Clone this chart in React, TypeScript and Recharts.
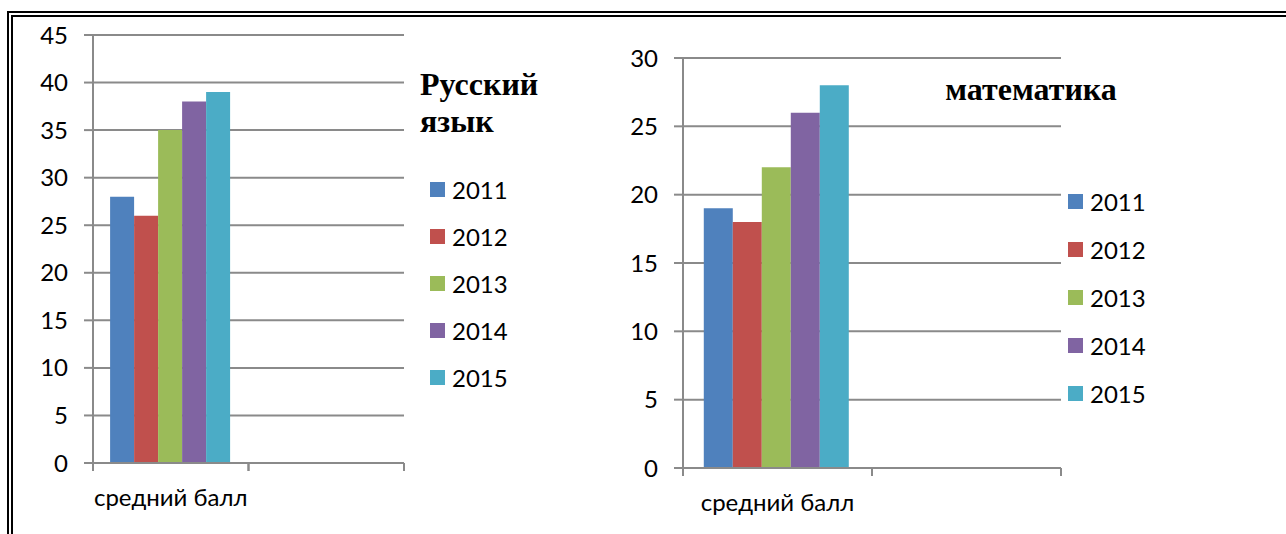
import { Bar, BarChart, CartesianGrid, Legend, XAxis, YAxis } from 'recharts'

const years = ['2011', '2012', '2013', '2014', '2015']
const colors = ['#4F81BD', '#C0504D', '#9BBB59', '#8064A2', '#4BACC6']
const categories = ['средний балл', '']

const russianScores = [28, 26, 35, 38, 39]
const mathScores = [19, 18, 22, 26, 28]

const russianTicks = [0, 5, 10, 15, 20, 25, 30, 35, 40, 45]
const mathTicks = [0, 5, 10, 15, 20, 25, 30]

const axisGray = '#8a8a8a'
const labelFont = 'Lato, "Open Sans", sans-serif'
const titleFont = '"Liberation Serif", "DejaVu Serif", serif'

// first category holds the scores, the second one stays empty
const buildRows = (scores: number[]) =>
  categories.map((name, ci) => {
    const row: Record<string, string | number | null> = { name }
    years.forEach((y, i) => {
      row[y] = ci === 0 ? scores[i] : null
    })
    return row
  })

const CategoryTick = (props: any) => {
  const { x, y, payload } = props
  const half = payload?.offset ?? 0
  return (
    <g>
      <line x1={x - half} x2={x - half} y1={y} y2={y + 8} stroke={axisGray} strokeWidth={2} />
      <line x1={x + half} x2={x + half} y1={y} y2={y + 8} stroke={axisGray} strokeWidth={2} />
      {payload.value ? (
        <text x={x} y={y + 43} textAnchor='middle' fontSize={24} fontFamily={labelFont} fill='#000'>
          {payload.value}
        </text>
      ) : null}
    </g>
  )
}

const LegendList = (props: any) => {
  const { payload, rowHeight } = props
  return (
    <div style={{ fontFamily: labelFont, fontSize: 24, color: '#000' }}>
      {(payload || []).map((entry: any) => (
        <div key={entry.value} style={{ height: rowHeight, display: 'flex', alignItems: 'center' }}>
          <span style={{ width: 15, height: 15, background: entry.color, marginRight: 7, display: 'inline-block' }} />
          <span>{entry.value}</span>
        </div>
      ))}
    </div>
  )
}

type PanelProps = {
  scores: number[]
  ticks: number[]
  width: number
  margin: { top: number; right: number; bottom: number; left: number }
  legendPos: { left: number; top: number }
  rowHeight: number
}

function ScorePanel({ scores, ticks, width, margin, legendPos, rowHeight }: PanelProps) {
  const data = buildRows(scores)
  return (
    <BarChart width={width} height={534} data={data} margin={margin} barCategoryGap='11%' barGap={0}>
      <CartesianGrid vertical={false} stroke={axisGray} strokeWidth={2} />
      <XAxis
        dataKey='name'
        interval={0}
        height={60}
        tickLine={false}
        tickSize={0}
        tickMargin={0}
        axisLine={{ stroke: axisGray, strokeWidth: 2 }}
        tick={<CategoryTick />}
      />
      <YAxis
        width={93}
        domain={[ticks[0], ticks[ticks.length - 1]]}
        ticks={ticks}
        interval={0}
        tickSize={9}
        tickMargin={16}
        axisLine={{ stroke: axisGray, strokeWidth: 2 }}
        tickLine={{ stroke: axisGray, strokeWidth: 2 }}
        tick={{ fill: '#000', fontSize: 24, fontFamily: labelFont }}
      />
      <Legend
        layout='vertical'
        align='center'
        verticalAlign='middle'
        wrapperStyle={{ left: legendPos.left, top: legendPos.top, width: 120 }}
        content={<LegendList rowHeight={rowHeight} />}
      />
      {years.map((y, i) => (
        <Bar key={y} dataKey={y} name={y} fill={colors[i]} isAnimationActive={false} />
      ))}
    </BarChart>
  )
}

export default function App() {
  return (
    <div style={{ position: 'fixed', left: 0, top: 0, width: 1286, height: 534, overflow: 'hidden', background: '#fff' }}>
      <div
        style={{
          position: 'absolute',
          left: 7,
          top: 11,
          width: 1400,
          height: 600,
          border: '6px double #000',
          boxSizing: 'border-box',
        }}
      />
      <div style={{ position: 'absolute', left: 0, top: 0 }}>
        <ScorePanel
          scores={russianScores}
          ticks={russianTicks}
          width={600}
          margin={{ top: 35, right: 196, bottom: 11, left: 0 }}
          legendPos={{ left: 430, top: 166 }}
          rowHeight={47}
        />
      </div>
      <div style={{ position: 'absolute', left: 590, top: 0 }}>
        <ScorePanel
          scores={mathScores}
          ticks={mathTicks}
          width={696}
          margin={{ top: 58, right: 225, bottom: 6, left: 0 }}
          legendPos={{ left: 478, top: 177 }}
          rowHeight={48}
        />
      </div>
      <svg width={1286} height={534} style={{ position: 'absolute', left: 0, top: 0, pointerEvents: 'none' }}>
        <text fontFamily={titleFont} fontWeight='bold' fontSize={32} fill='#000'>
          <tspan x={420} y={95}>Русский</tspan>
          <tspan x={420} y={132}>язык</tspan>
        </text>
        <text x={1031} y={100} textAnchor='middle' fontFamily={titleFont} fontWeight='bold' fontSize={32} fill='#000'>
          математика
        </text>
      </svg>
    </div>
  )
}
